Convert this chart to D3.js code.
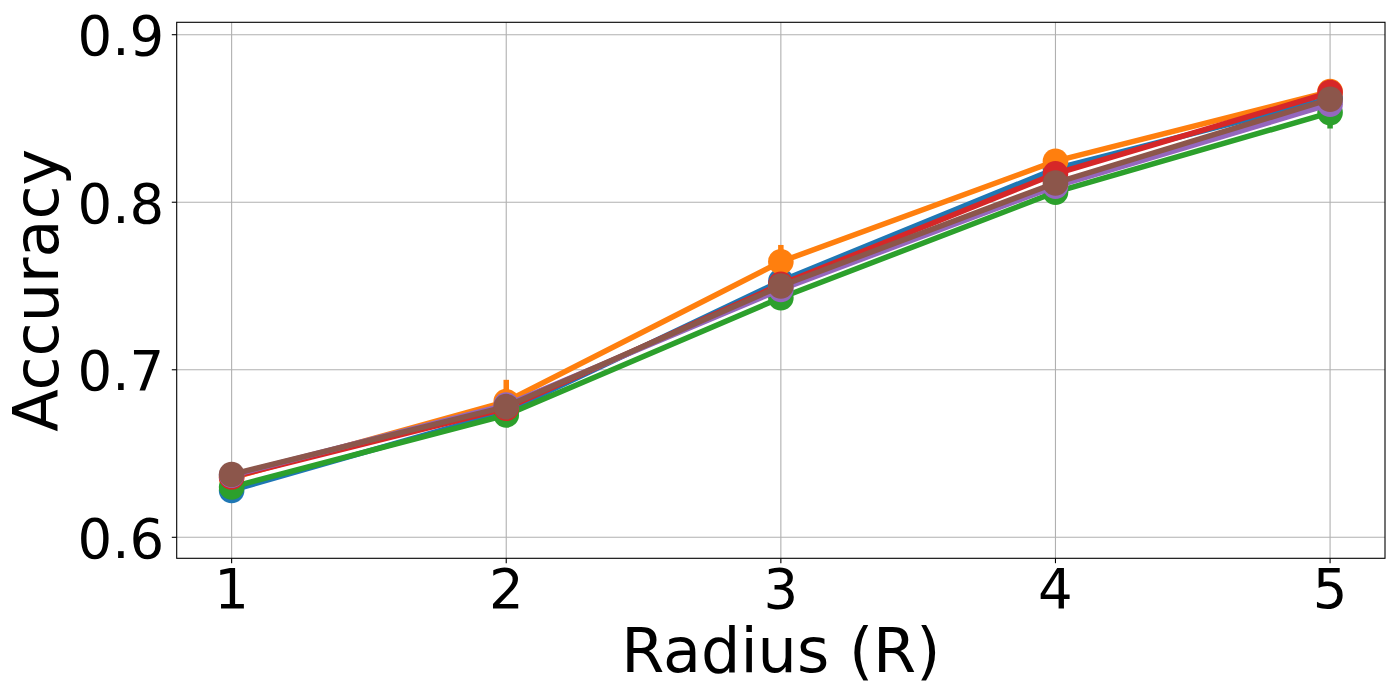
<!DOCTYPE html>
<html>
<head>
<meta charset="utf-8">
<script src="https://cdn.jsdelivr.net/npm/d3@7"></script>
<style>
  html, body { margin: 0; padding: 0; background: #fff; }
  svg { display: block; }
  text { font-family: "DejaVu Sans", sans-serif; fill: #000; }
</style>
</head>
<body>
<div id="chart"></div>
<script>
// ---- data ----
const radii = [1, 2, 3, 4, 5];
const seriesNames = ["s1", "s2", "s3", "s4", "s5", "s6"];
const seriesColors = ["#1f77b4", "#ff7f0e", "#2ca02c", "#d62728", "#9467bd", "#8c564b"];
const blueVals   = [0.628, 0.675, 0.753, 0.820, 0.862];
const orangeVals = [0.6355, 0.681, 0.7645, 0.8245, 0.866];
const greenVals  = [0.630, 0.673, 0.743, 0.806, 0.8535];
const redVals    = [0.636, 0.677, 0.751, 0.817, 0.8655];
const purpleVals = [0.637, 0.679, 0.748, 0.8095, 0.8585];
const brownVals  = [0.6375, 0.678, 0.750, 0.8115, 0.8615];
const blueErr   = [0.003, 0.003, 0.004, 0.003, 0.003];
const orangeErr = [0.003, 0.013, 0.010, 0.003, 0.003];
const greenErr  = [0.003, 0.003, 0.003, 0.003, 0.0095];
const redErr    = [0.003, 0.003, 0.003, 0.003, 0.003];
const purpleErr = [0.003, 0.003, 0.003, 0.003, 0.003];
const brownErr  = [0.003, 0.003, 0.003, 0.003, 0.003];
const yTicks = [0.6, 0.7, 0.8, 0.9];
const xTicks = [1, 2, 3, 4, 5];
const xLabel = "Radius (R)";
const yLabel = "Accuracy";

const allVals = [blueVals, orangeVals, greenVals, redVals, purpleVals, brownVals];
const allErrs = [blueErr, orangeErr, greenErr, redErr, purpleErr, brownErr];

// ---- layout ----
const W = 1400, H = 700;
const L = 176.7, R = 1385, T = 22.3, B = 558.3;

const x = d3.scaleLinear().domain([0.8, 5.2]).range([L, R]);
const pxPer = (537.3 - 34.7) / 0.3;
const y = d3.scaleLinear()
  .domain([0.6 - (B - 537.3) / pxPer, 0.9 + (34.7 - T) / pxPer])
  .range([B, T]);

const svg = d3.select("#chart").append("svg")
  .attr("width", W).attr("height", H);

// grid
const grid = svg.append("g");
grid.selectAll(".gx").data(xTicks).enter().append("line")
  .attr("x1", d => x(d)).attr("x2", d => x(d))
  .attr("y1", T).attr("y2", B)
  .attr("stroke", "#b0b0b0").attr("stroke-width", 1.1);
grid.selectAll(".gy").data(yTicks).enter().append("line")
  .attr("y1", d => y(d)).attr("y2", d => y(d))
  .attr("x1", L).attr("x2", R)
  .attr("stroke", "#b0b0b0").attr("stroke-width", 1.1);

// series
const plot = svg.append("g");
allVals.forEach((vals, si) => {
  const color = seriesColors[si];
  const errs = allErrs[si];
  const pts = radii.map((r, i) => ({ r, v: vals[i], e: errs[i] }));
  const g = plot.append("g");
  g.append("path")
    .datum(pts)
    .attr("fill", "none")
    .attr("stroke", color)
    .attr("stroke-width", 5.5)
    .attr("stroke-linejoin", "round")
    .attr("d", d3.line().x(d => x(d.r)).y(d => y(d.v)));
  g.selectAll(".err").data(pts).enter().append("line")
    .attr("x1", d => x(d.r)).attr("x2", d => x(d.r))
    .attr("y1", d => y(d.v - d.e)).attr("y2", d => y(d.v + d.e))
    .attr("stroke", color).attr("stroke-width", 5.5);
  g.selectAll(".pt").data(pts).enter().append("circle")
    .attr("cx", d => x(d.r)).attr("cy", d => y(d.v))
    .attr("r", 12.8)
    .attr("fill", color);
});

// spines
svg.append("rect")
  .attr("x", L).attr("y", T).attr("width", R - L).attr("height", B - T)
  .attr("fill", "none").attr("stroke", "#000").attr("stroke-width", 1.1);

// axes ticks
const tickLen = 4.9;
const ax = svg.append("g");
ax.selectAll(".ty").data(yTicks).enter().append("line")
  .attr("x1", L - tickLen).attr("x2", L)
  .attr("y1", d => y(d)).attr("y2", d => y(d))
  .attr("stroke", "#000").attr("stroke-width", 1.1);
ax.selectAll(".tyl").data(yTicks).enter().append("text")
  .attr("x", L - tickLen - 7.5)
  .attr("y", d => y(d) + 20.5)
  .attr("text-anchor", "end")
  .attr("font-size", 54.5)
  .text(d => d3.format(".1f")(d));
ax.selectAll(".tx").data(xTicks).enter().append("line")
  .attr("x1", d => x(d)).attr("x2", d => x(d))
  .attr("y1", B).attr("y2", B + tickLen)
  .attr("stroke", "#000").attr("stroke-width", 1.1);
ax.selectAll(".txl").data(xTicks).enter().append("text")
  .attr("x", d => x(d))
  .attr("y", B + 49.7)
  .attr("text-anchor", "middle")
  .attr("font-size", 54.5)
  .text(d => d);

// labels
svg.append("text")
  .attr("x", (L + R) / 2).attr("y", 671.7)
  .attr("text-anchor", "middle")
  .attr("font-size", 62)
  .text(xLabel);
svg.append("text")
  .attr("transform", `translate(58,${(T + B) / 2}) rotate(-90)`)
  .attr("text-anchor", "middle")
  .attr("font-size", 62)
  .text(yLabel);
</script>
</body>
</html>
